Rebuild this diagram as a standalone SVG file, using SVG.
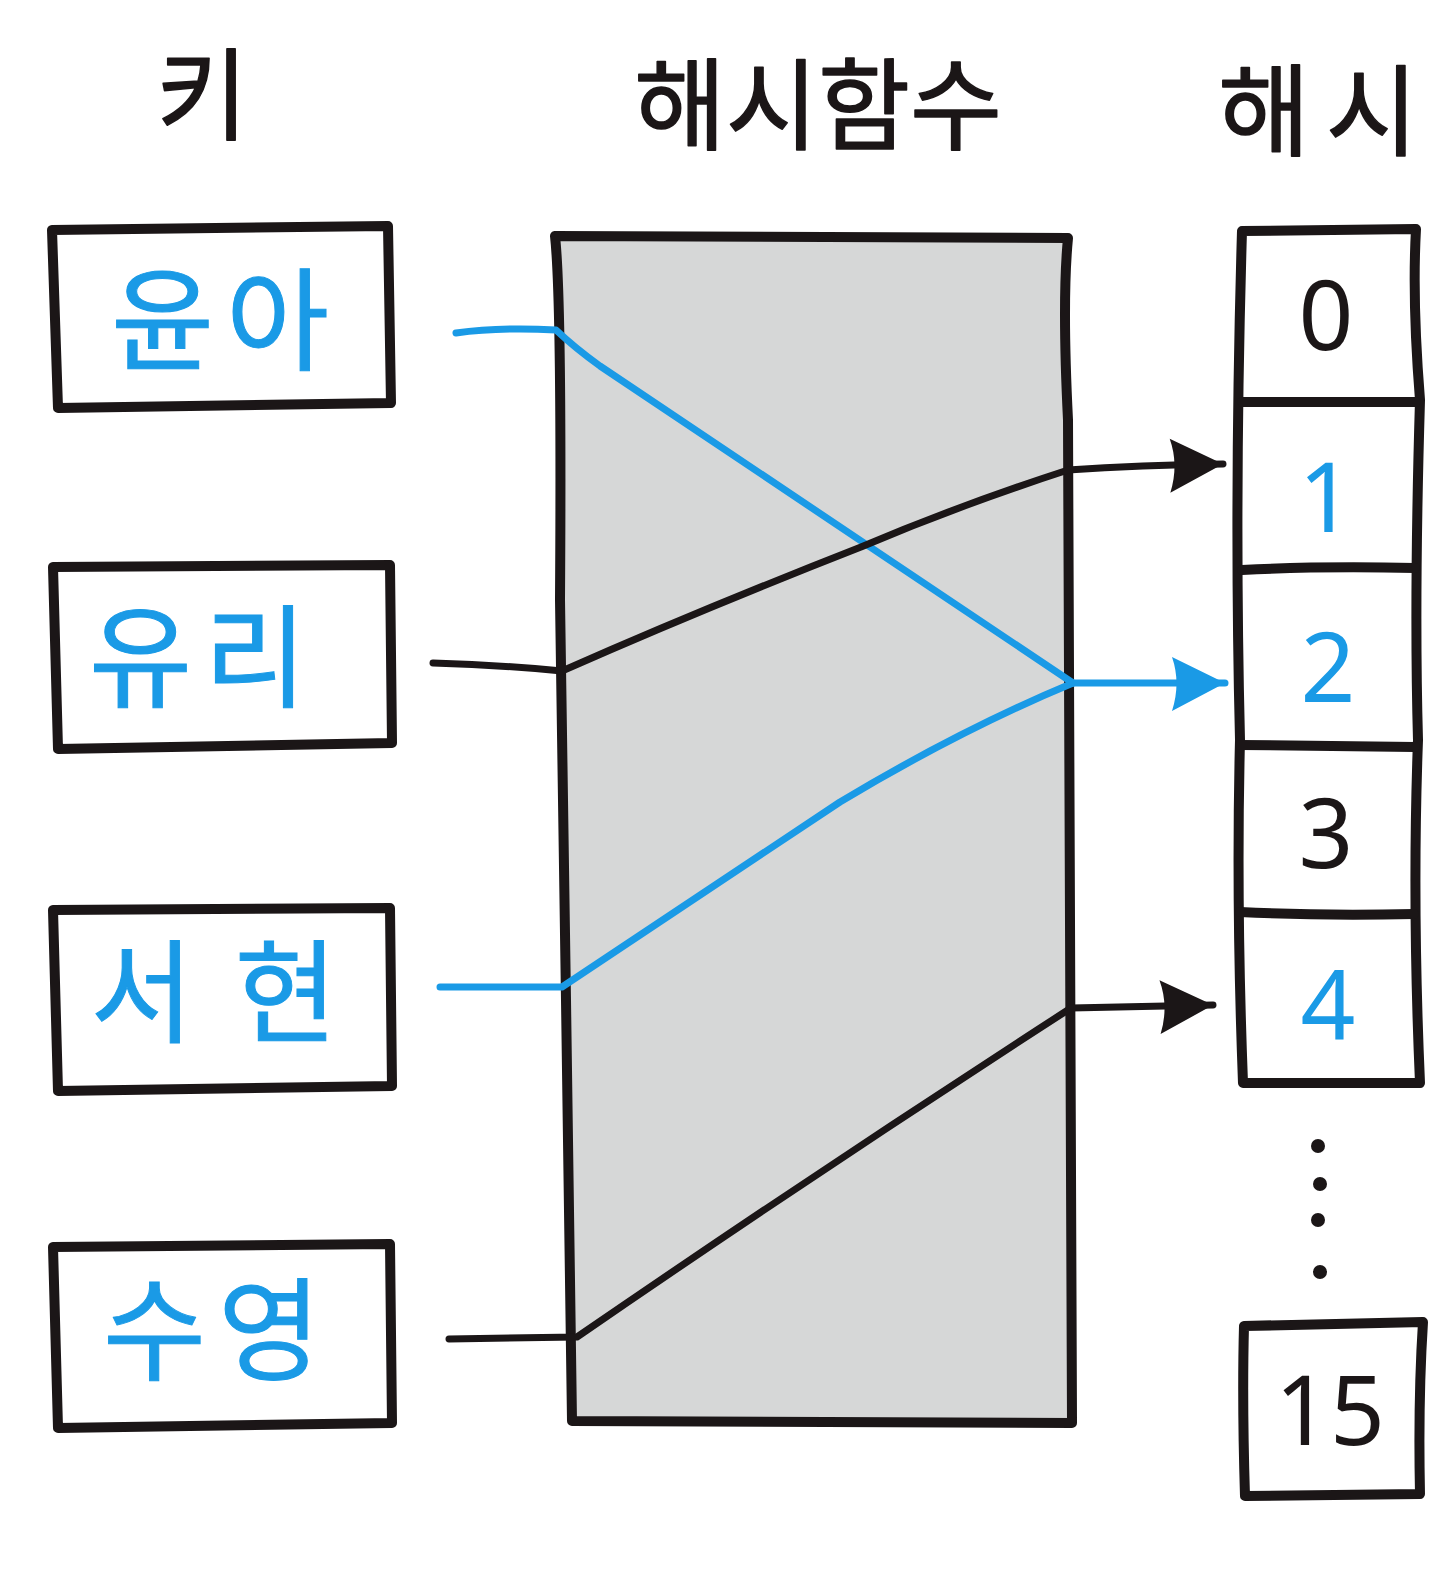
<svg xmlns="http://www.w3.org/2000/svg" width="1447" height="1588" viewBox="0 0 1447 1588">
<defs>
<style>
.box{fill:#ffffff;stroke:#1b1617;stroke-width:10;stroke-linejoin:round;stroke-linecap:round}
.hf{fill:#d6d7d7;stroke:#1b1617;stroke-width:10;stroke-linejoin:round}
.div{fill:none;stroke:#1b1617;stroke-width:10;stroke-linecap:round}
.title{font-family:"Noto Sans CJK KR","Noto Sans",sans-serif;font-size:100px;fill:#1b1617;stroke:#1b1617;stroke-width:1.5;stroke-linejoin:round;text-anchor:middle}
.key{font-family:"Noto Sans CJK KR","Noto Sans",sans-serif;font-size:112px;fill:#1a9ae6;stroke:#1a9ae6;stroke-width:1;text-anchor:middle}
.num{font-family:"Noto Sans","Noto Sans CJK KR",sans-serif;font-size:96px;fill:#1b1617;text-anchor:middle}
.blue{fill:#1a9ae6}
.lk{fill:none;stroke:#1b1617;stroke-width:7;stroke-linecap:round;stroke-linejoin:round}
.lb{fill:none;stroke:#1a9ae6;stroke-width:7;stroke-linecap:round;stroke-linejoin:round}
</style>
<marker id="ak" markerUnits="userSpaceOnUse" markerWidth="60" markerHeight="60" refX="56" refY="28" orient="auto">
<path d="M3,2 L56,28 L3,56 Q12,28 3,2 Z" fill="#1b1617"/>
</marker>
<marker id="ab" markerUnits="userSpaceOnUse" markerWidth="60" markerHeight="60" refX="56" refY="28" orient="auto">
<path d="M3,2 L56,28 L3,56 Q12,28 3,2 Z" fill="#1a9ae6"/>
</marker>
</defs>
<rect width="1447" height="1588" fill="#ffffff"/>

<g id="titles">
<text class="title" x="202" y="132">키</text>
<text class="title" x="818" y="142">해시함수</text>
<text class="title" x="1326" y="148" letter-spacing="16">해시</text>
</g>

<g id="hash-function">
<path class="hf" d="M555,236 L1068,238 Q1062,300 1068,420 L1072,1423 L572,1421 L566,1000 L560,600 Q562,300 555,236 Z"/>
</g>

<g id="key-yuna">
<path class="box" d="M52,230 L388,226 L391,403 L58,408 Z"/>
<text class="key" x="226" y="362" letter-spacing="12">윤아</text>
</g>
<g id="key-yuri">
<path class="box" d="M53,567 L390,565 L392,743 L58,749 Z"/>
<text class="key" x="204" y="699" letter-spacing="12">유리</text>
</g>
<g id="key-seohyun">
<path class="box" d="M53,910 L390,908 L392,1086 L58,1091 Z"/>
<text class="key" x="218" y="1034" letter-spacing="8">서 현</text>
</g>
<g id="key-sooyoung">
<path class="box" d="M53,1247 L390,1244 L392,1423 L58,1428 Z"/>
<text class="key" x="218" y="1372" letter-spacing="12">수영</text>
</g>

<g id="hash-table">
<path class="box" d="M1242,231 L1416,229 Q1412,300 1420,400 Q1414,600 1418,740 Q1412,900 1420,1083 L1243,1083 Q1236,900 1240,740 Q1234,500 1242,231 Z"/>
<path class="div" d="M1242,402 L1416,402"/>
<path class="div" d="M1242,570 Q1320,566 1415,568"/>
<path class="div" d="M1240,745 L1415,747"/>
<path class="div" d="M1240,912 Q1320,916 1414,914"/>
<text class="num" x="1326" y="350">0</text>
<text class="num blue" x="1326" y="532">1</text>
<text class="num blue" x="1328" y="702">2</text>
<text class="num" x="1326" y="868">3</text>
<text class="num blue" x="1328" y="1040">4</text>
<circle cx="1318" cy="1146" r="7" fill="#1b1617"/>
<circle cx="1320" cy="1184" r="7" fill="#1b1617"/>
<circle cx="1318" cy="1220" r="7" fill="#1b1617"/>
<circle cx="1320" cy="1272" r="7" fill="#1b1617"/>
<path class="box" d="M1244,1326 L1423,1322 Q1418,1400 1420,1494 L1245,1496 Q1242,1400 1244,1326 Z"/>
<text class="num" x="1330" y="1445">15</text>
</g>

<g id="connectors">
<path class="lb" d="M456,333 Q500,327 556,330 Q575,348 600,366 L1073,683"/>
<path class="lk" d="M433,663 Q500,665 562,671 Q700,610 861,547 Q960,505 1068,470 Q1140,465 1223,464" marker-end="url(#ak)"/>
<path class="lb" d="M440,987 L562,987 Q700,895 840,802 Q960,730 1073,683 L1225,683" marker-end="url(#ab)"/>
<path class="lk" d="M449,1339 L577,1337 Q820,1170 1071,1008 L1213,1005" marker-end="url(#ak)"/>
</g>
</svg>
